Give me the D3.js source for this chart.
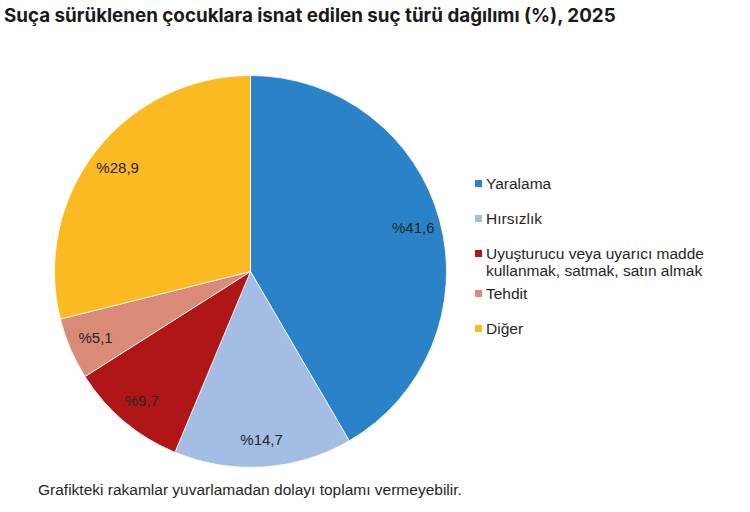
<!DOCTYPE html>
<html>
<head>
<meta charset="utf-8">
<script src="https://cdn.jsdelivr.net/npm/d3@7"></script>
<style>
  body { margin: 0; background: #fff; }
  svg { display: block; }
</style>
</head>
<body>
<div id="app"></div>
<script>
const categories = ['Yaralama', 'Hırsızlık', 'Uyuşturucu veya uyarıcı madde|kullanmak, satmak, satın almak', 'Tehdit', 'Diğer']
const values = [41.6, 14.7, 9.7, 5.1, 28.9]
const labels = ['%41,6', '%14,7', '%9,7', '%5,1', '%28,9']
const colors = ['#2a82c8', '#a4bde4', '#b01518', '#d98b78', '#fbba22']

const width = 750, height = 512
const cx = 250.5, cy = 271.5, radius = 196

const svg = d3.select('#app')
  .append('svg')
  .attr('width', width)
  .attr('height', height)

svg.append('text')
  .attr('x', 4)
  .attr('y', 22)
  .attr('font-family', 'Inter, Roboto, sans-serif')
  .attr('font-weight', 700)
  .attr('font-size', 18.8)
  .attr('fill', '#1a1a1a')
  .text('Suça sürüklenen çocuklara isnat edilen suç türü dağılımı (%), 2025')

const data = values.map((v, i) => ({ value: v, i }))

const pie = d3.pie().sort(null).value(d => d.value)
const arc = d3.arc().innerRadius(0).outerRadius(radius)
const labelArc = d3.arc().innerRadius(radius * 0.86).outerRadius(radius * 0.86)

const g = svg.append('g')
  .attr('transform', `translate(${cx}, ${cy})`)

const slices = pie(data)

g.selectAll('path')
  .data(slices)
  .enter().append('path')
  .attr('d', arc)
  .attr('fill', d => colors[d.data.i])
  .attr('stroke', '#fff')
  .attr('stroke-width', 0.8)

g.selectAll('text')
  .data(slices)
  .enter().append('text')
  .attr('transform', d => `translate(${labelArc.centroid(d)})`)
  .attr('text-anchor', 'middle')
  .attr('dy', '0.35em')
  .attr('font-family', 'Liberation Sans, Arial, sans-serif')
  .attr('font-size', 15)
  .attr('fill', '#262626')
  .text(d => labels[d.data.i])

// legend
const legendY = [184, 219, 254, 294, 329]
const legend = svg.append('g')
  .attr('font-family', 'Liberation Sans, Arial, sans-serif')
  .attr('font-size', 15.5)
  .attr('fill', '#262626')

categories.forEach((c, i) => {
  const row = legend.append('g').attr('transform', `translate(475, ${legendY[i]})`)
  row.append('rect')
    .attr('x', 0).attr('y', -4)
    .attr('width', 7).attr('height', 7)
    .attr('fill', colors[i])
  const t = row.append('text').attr('x', 11)
  c.split('|').forEach((line, j) => {
    t.append('tspan').attr('x', 11).attr('dy', j === 0 ? '0.35em' : '1.1em').text(line)
  })
})

svg.append('text')
  .attr('x', 38)
  .attr('y', 495)
  .attr('font-family', 'Liberation Sans, Arial, sans-serif')
  .attr('font-size', 15.5)
  .attr('fill', '#262626')
  .text('Grafikteki rakamlar yuvarlamadan dolayı toplamı vermeyebilir.')
</script>
</body>
</html>
